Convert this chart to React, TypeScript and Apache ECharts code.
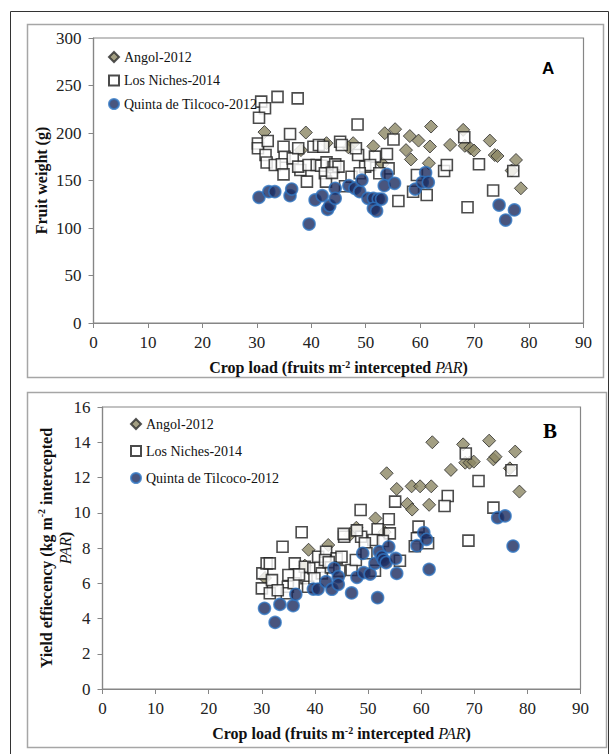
import React, { useEffect, useRef } from "react";
import * as echarts from "echarts";

const xTicksA = [0, 90, 10];
const yTicksA = [0, 300, 50];
const yTicksB = [0, 16, 2];

const seriesNames = ["Angol-2012", "Los Niches-2014", "Quinta de Tilcoco-2012"];

// Panel A: crop load vs fruit weight (g)
const angolA = [
  [31.4, 201], [39.0, 200.5], [38.1, 182], [42.8, 189.3], [47.7, 189.3], [46.8, 185],
  [51.4, 186], [53.5, 199.8], [55.4, 204], [53.1, 167.5], [58.1, 196.8], [59.7, 192],
  [57.4, 182], [58.3, 172.2], [62.0, 206.8], [61.8, 185.8], [61.6, 168.2], [65.5, 187.5],
  [67.9, 203.3], [68.2, 186.5], [69.2, 184], [69.9, 181.5], [72.8, 192], [73.7, 176.8],
  [74.2, 175.8], [76.8, 160.5], [77.6, 171.6], [78.5, 141.8],
];
const nichesA = [
  [30.8, 233], [31.5, 226], [30.4, 216], [33.8, 238], [37.5, 236.5], [36.1, 199],
  [30.2, 189], [30.2, 184], [32.0, 191.6], [31.6, 176.8], [31.8, 169], [34.9, 185.6],
  [35.1, 175], [33.3, 166.3], [34.6, 167.1], [34.9, 156.5], [36.6, 173.3], [38.0, 161],
  [37.6, 164.6], [39.5, 166.3], [39.2, 148.8], [40.4, 185.6], [41.4, 187.4], [42.2, 185.6],
  [41.0, 166.3], [41.8, 165.6], [42.8, 169.1], [42.5, 157.6], [42.7, 148.8], [44.1, 164.2],
  [44.4, 167], [45.0, 164.6], [45.3, 190.8], [45.6, 187.4], [46.2, 144], [37.6, 184],
  [48.5, 208.9], [55.1, 193.2], [48.6, 176.8], [48.2, 184], [51.7, 175.1], [53.9, 177.9],
  [49.9, 164.6], [50.8, 166.3], [54.2, 162.8], [47.4, 154], [48.9, 157.6], [52.5, 157.6],
  [59.4, 155.8], [58.7, 138.2], [61.2, 134.7], [56.0, 128.4], [64.4, 160], [64.9, 166.3],
  [68.1, 195.6], [70.8, 167.1], [73.4, 139.5], [68.7, 121.9], [77.1, 160], [43.8, 158],
];
const quintaA = [
  [30.4, 132.3], [32.2, 138.2], [33.3, 138.2], [36.1, 134], [36.4, 141], [39.6, 104.2],
  [40.7, 129.5], [42.0, 134], [43.0, 119.6], [43.4, 123.5], [44.4, 141.8], [44.4, 131.2],
  [46.9, 144.5], [48.0, 141.8], [48.9, 138.2], [49.3, 150.5], [50.4, 131.2], [51.4, 131.2],
  [52.3, 130.5], [52.9, 130.5], [51.4, 120.7], [52.0, 117.9], [53.9, 156.5], [53.4, 144.6],
  [55.3, 147.1], [59.1, 141], [61.0, 158.2], [60.4, 148.1], [61.5, 148.1], [74.5, 124.2],
  [77.3, 119], [75.7, 108.4],
];

// Panel B: crop load vs yield efficiency
const angolB = [
  [30.6, 6.3], [38.8, 7.9], [38.1, 7.0], [42.5, 8.17], [47.8, 9.15], [46.6, 8.75],
  [51.4, 9.68], [53.5, 12.24], [55.4, 11.35], [53.1, 8.9], [58.2, 11.5], [59.8, 11.5],
  [57.4, 10.5], [58.3, 10.18], [62.1, 14.0], [61.9, 11.5], [61.5, 10.45], [65.6, 12.43],
  [67.9, 13.88], [68.3, 12.84], [69.1, 12.84], [69.9, 12.9], [72.8, 14.09], [73.6, 13.03],
  [74.0, 13.18], [76.7, 12.52], [77.7, 13.47], [78.5, 11.2],
];
const nichesB = [
  [30.1, 6.56], [30.0, 5.71], [30.9, 7.13], [31.5, 7.13], [31.9, 6.18], [31.5, 5.43],
  [33.9, 8.07], [35.0, 6.47], [34.9, 5.8], [34.7, 5.43], [36.2, 7.13], [37.5, 8.89],
  [38.1, 6.94], [38.4, 6.28], [38.7, 5.8], [39.7, 6.85], [41.0, 6.94], [41.3, 6.56],
  [39.9, 6.28], [40.6, 7.5], [42.1, 7.79], [41.9, 7.32], [44.1, 7.41], [45.0, 7.5],
  [46.9, 6.75], [45.5, 8.64], [45.4, 8.8], [48.6, 10.16], [55.1, 10.63], [65.0, 10.95],
  [64.4, 10.38], [53.9, 9.63], [54.1, 8.83], [51.8, 9.06], [51.0, 8.45], [48.7, 8.64],
  [47.9, 9.0], [49.4, 8.27], [47.7, 7.32], [49.7, 7.7], [51.3, 6.71], [56.0, 7.28],
  [59.5, 9.21], [59.2, 8.55], [61.3, 8.27], [68.4, 13.36], [70.8, 11.8], [73.6, 10.29],
  [68.9, 8.42], [77.0, 12.41], [33.0, 5.6], [36.0, 6.0], [52.8, 8.4], [43.0, 6.9],
  [42.6, 7.2], [44.6, 6.7], [37.0, 6.5], [58.8, 8.1],
];
const quintaB = [
  [30.5, 4.58], [32.5, 3.78], [33.4, 4.8], [35.9, 4.73], [36.4, 5.37], [39.7, 5.67],
  [40.6, 5.67], [42.1, 6.09], [43.2, 5.66], [43.6, 6.85], [44.4, 6.37], [44.4, 5.94],
  [46.9, 5.45], [47.9, 6.34], [49.0, 7.7], [49.2, 6.6], [50.4, 6.52], [51.3, 7.13],
  [51.8, 5.18], [52.1, 7.79], [52.6, 7.5], [52.9, 7.32], [53.4, 7.17], [53.9, 8.07],
  [55.2, 7.41], [55.4, 6.56], [59.2, 8.13], [60.5, 8.87], [61.0, 8.49], [61.5, 6.79],
  [74.4, 9.72], [75.8, 9.82], [77.3, 8.11],
];

const SERIF = "'Liberation Serif', 'Times New Roman', serif";
const AX = "#868686";

const styles = [
  { symbol: "diamond", symbolSize: 13, itemStyle: { color: "#8C8764", borderColor: "#2a2a2a", borderWidth: 1 } },
  { symbol: "rect", symbolSize: 11, itemStyle: { color: "#ffffff", borderColor: "#1e1e1e", borderWidth: 1.6 } },
  { symbol: "circle", symbolSize: 12, itemStyle: { color: "#1C2B5E", borderColor: "#2F74C0", borderWidth: 1.6 } },
];

const tickLabel = { fontFamily: SERIF, fontSize: 17, color: "#222" };

function xAxisFor(gridIndex: number) {
  return {
    type: "value", gridIndex, min: xTicksA[0], max: xTicksA[1], interval: xTicksA[2],
    axisLine: { show: true, lineStyle: { color: AX, width: 1.2 } },
    axisTick: { show: true, inside: false, length: 5, lineStyle: { color: AX } },
    axisLabel: { ...tickLabel, margin: 11 },
    splitLine: { show: false },
    name: "Crop load (fruits m{sup|-2} intercepted {it|PAR})",
    nameLocation: "middle", nameGap: 36, nameMoveOverlap: false,
    nameTextStyle: {
      fontFamily: SERIF, fontSize: 16, fontWeight: "bold", color: "#111",
      rich: {
        sup: { fontFamily: SERIF, fontSize: 10, fontWeight: "bold", color: "#111", verticalAlign: "top" },
        it: { fontFamily: SERIF, fontSize: 16, fontStyle: "italic", fontWeight: "normal", color: "#111" },
      },
    },
  };
}

export default function App() {
  const ref = useRef<HTMLDivElement>(null);
  useEffect(() => {
    if (!ref.current) return;
    const chart = echarts.init(ref.current, null, { renderer: "svg" });
    const datasets = [[angolA, nichesA, quintaA], [angolB, nichesB, quintaB]];
    const series: any[] = [];
    datasets.forEach((group, gi) => {
      group.forEach((data, si) => {
        series.push({
          type: "scatter", name: seriesNames[si], xAxisIndex: gi, yAxisIndex: gi,
          data, ...styles[si], z: 2 + si,
        });
      });
    });
    chart.setOption({
      animation: false,
      backgroundColor: "#ffffff",
      grid: [
        { left: 93.5, top: 38, width: 490, height: 285, show: true, borderColor: AX, borderWidth: 1.2, backgroundColor: "transparent" },
        { left: 102.5, top: 407, width: 478, height: 282, show: true, borderColor: AX, borderWidth: 1.2, backgroundColor: "transparent" },
      ],
      xAxis: [xAxisFor(0), xAxisFor(1)],
      yAxis: [
        {
          type: "value", gridIndex: 0, min: yTicksA[0], max: yTicksA[1], interval: yTicksA[2],
          axisLine: { show: true, lineStyle: { color: AX, width: 1.2 } },
          axisTick: { show: true, inside: false, length: 5, lineStyle: { color: AX } },
          axisLabel: { ...tickLabel, margin: 12 },
          splitLine: { show: false },
          name: "Fruit weight (g)", nameLocation: "middle", nameGap: 44, nameMoveOverlap: false,
          nameTextStyle: { fontFamily: SERIF, fontSize: 16, fontWeight: "bold", color: "#111" },
        },
        {
          type: "value", gridIndex: 1, min: yTicksB[0], max: yTicksB[1], interval: yTicksB[2],
          axisLine: { show: true, lineStyle: { color: AX, width: 1.2 } },
          axisTick: { show: true, inside: false, length: 5, lineStyle: { color: AX } },
          axisLabel: { ...tickLabel, margin: 12 },
          splitLine: { show: false },
          name: "Yield effiecency (kg m{sup|-2} intercepted\n{it|PAR})",
          nameLocation: "middle", nameGap: 28, nameMoveOverlap: false,
          nameTextStyle: {
            fontFamily: SERIF, fontSize: 16, fontWeight: "bold", color: "#111", lineHeight: 19,
            rich: {
              sup: { fontFamily: SERIF, fontSize: 10, fontWeight: "bold", color: "#111", verticalAlign: "top" },
              it: { fontFamily: SERIF, fontSize: 16, fontStyle: "italic", fontWeight: "normal", color: "#111" },
            },
          },
        },
      ],
      legend: [
        {
          orient: "vertical", left: 108, top: 50, padding: 0, itemWidth: 10, itemHeight: 10, itemGap: 9.5,
          textStyle: { fontFamily: SERIF, fontSize: 14, color: "#111" },
          data: seriesNames, selectedMode: false,
        },
        {
          orient: "vertical", left: 130, top: 417, padding: 0, itemWidth: 10, itemHeight: 10, itemGap: 13,
          textStyle: { fontFamily: SERIF, fontSize: 14, color: "#111" },
          data: seriesNames, selectedMode: false,
        },
      ],
      graphic: [
        { type: "rect", shape: { x: 10.5, y: 11.5, width: 598, height: 760 }, style: { fill: "none", stroke: "#333", lineWidth: 1 }, silent: true, z: -1 },
        { type: "rect", shape: { x: 27.5, y: 24.5, width: 576, height: 353 }, style: { fill: "none", stroke: "#A6A6A6", lineWidth: 1.5 }, silent: true, z: -1 },
        { type: "rect", shape: { x: 27.5, y: 392.5, width: 579, height: 355 }, style: { fill: "none", stroke: "#A6A6A6", lineWidth: 1.5 }, silent: true, z: -1 },
        { type: "text", left: 542, top: 60, style: { text: "A", fontFamily: "'Liberation Sans', Arial, sans-serif", fontSize: 17, fontWeight: "bold", fill: "#000" } },
        { type: "text", left: 543, top: 420, style: { text: "B", fontFamily: SERIF, fontSize: 21, fontWeight: "bold", fill: "#000" } },
      ],
      series,
    });
    return () => chart.dispose();
  }, []);
  return <div ref={ref} style={{ position: "fixed", left: 0, top: 0, width: 614, height: 754 }} />;
}
